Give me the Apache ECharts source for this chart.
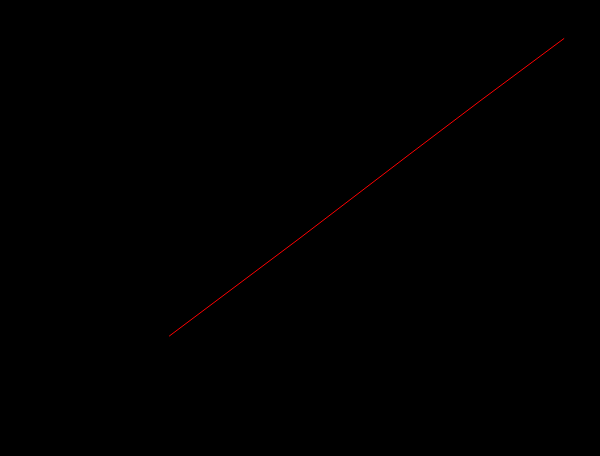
<!DOCTYPE html>
<html>
<head>
<meta charset="utf-8">
<script src="https://cdn.jsdelivr.net/npm/echarts@6/dist/echarts.min.js"></script>
<style>
html,body{margin:0;padding:0;background:#000;}
#chart{width:600px;height:456px;}
</style>
</head>
<body>
<div id="chart"></div>
<script>
// Data (log-log standard curve)
const concentrations = [206, 968, 3550, 8130, 22000];   // pg/mL
const opticalDensity = [0.0327, 0.138, 0.473, 1.03, 2.58]; // OD450nm
const xTickLabels = ['100', '1000', '10000'];
const yTickLabels = ['0.1', '1'];
const xTitle = 'FGFR4 concentration(pg/mL)';
const yTitle = 'optical density (OD450nm)';

const seriesData = concentrations.map((c, i) => [c, opticalDensity[i]]);

function isDecade(v) {
  const l = Math.log10(v);
  return Math.abs(l - Math.round(l)) < 1e-6;
}
function fmt(v, list) {
  if (!isDecade(v)) return '';
  const s = String(parseFloat(v.toPrecision(6)));
  return list.includes(s) ? s : '';
}

const chart = echarts.init(document.getElementById('chart'), null, {renderer: 'canvas'});
chart.setOption({
  backgroundColor: '#000000',
  animation: false,
  grid: {left: 108, top: 28.1, width: 482.4, height: 348.8, containLabel: false},
  xAxis: {
    type: 'log',
    logBase: 10,
    min: 100,
    max: 30000,
    name: xTitle,
    nameLocation: 'middle',
    nameGap: 31,
    nameTextStyle: {color: '#000', fontSize: 15, fontFamily: 'Liberation Sans', padding: [0, 20, 0, 0]},
    axisLine: {show: true, lineStyle: {color: '#000'}},
    axisTick: {show: false},
    splitLine: {show: false},
    minorTick: {show: false},
    axisLabel: {color: '#000', fontSize: 11, fontFamily: 'Liberation Sans', margin: 8,
      formatter: v => fmt(v, xTickLabels)}
  },
  yAxis: {
    type: 'log',
    logBase: 10,
    min: 0.018,
    max: 3,
    name: yTitle,
    nameLocation: 'middle',
    nameGap: 55,
    nameRotate: 90,
    nameTextStyle: {color: '#000', fontSize: 15, fontFamily: 'Liberation Sans', padding: [0, 0, 0, 19]},
    axisLine: {show: true, lineStyle: {color: '#000'}},
    axisTick: {show: false},
    splitLine: {show: false},
    minorTick: {show: false},
    axisLabel: {color: '#000', fontSize: 11, fontFamily: 'Liberation Sans', margin: 12,
      formatter: v => fmt(v, yTickLabels)}
  },
  series: [{
    type: 'line',
    data: seriesData,
    showSymbol: false,
    symbol: 'none',
    lineStyle: {color: '#ff0000', width: 1},
    itemStyle: {color: '#ff0000'}
  }]
});
</script>
</body>
</html>
